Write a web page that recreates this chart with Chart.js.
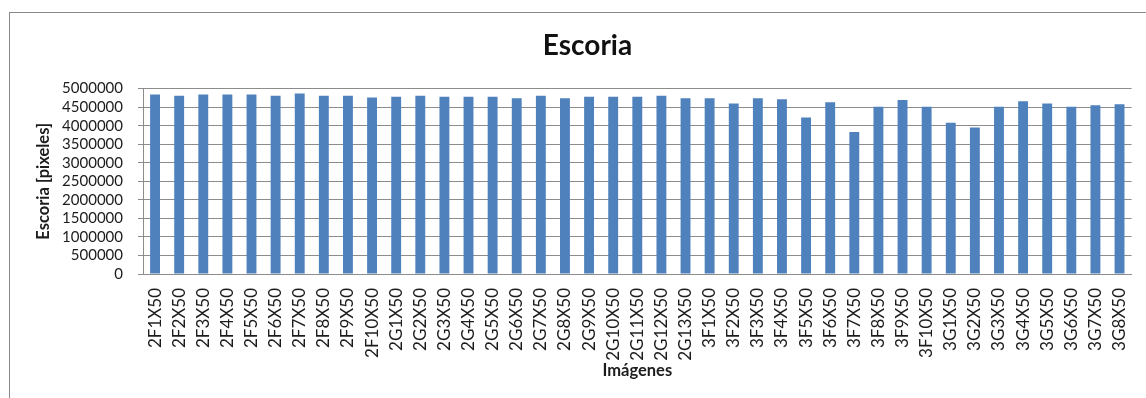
<!DOCTYPE html>
<html>
<head>
<meta charset="utf-8">
<script src="https://cdn.jsdelivr.net/npm/chart.js@4/dist/chart.umd.min.js"></script>
<style>
  body { margin: 0; background: #fff; }
  #wrap { position: relative; width: 1146px; height: 398px; overflow: hidden; }
  #frame { position: absolute; left: 9px; top: 12px; width: 1200px; height: 420px;
           border: 1px solid #8a8a8a; pointer-events: none; }
  canvas { position: absolute; left: 0; top: 0; }
</style>
</head>
<body>
<div id="wrap">
  <canvas id="escoriaChart" width="1146" height="398"></canvas>
  <div id="frame"></div>
</div>
<script>
const imagenes = [
  '2F1X50', '2F2X50', '2F3X50', '2F4X50', '2F5X50', '2F6X50', '2F7X50', '2F8X50', '2F9X50', '2F10X50',
  '2G1X50', '2G2X50', '2G3X50', '2G4X50', '2G5X50', '2G6X50', '2G7X50', '2G8X50', '2G9X50', '2G10X50',
  '2G11X50', '2G12X50', '2G13X50',
  '3F1X50', '3F2X50', '3F3X50', '3F4X50', '3F5X50', '3F6X50', '3F7X50', '3F8X50', '3F9X50', '3F10X50',
  '3G1X50', '3G2X50', '3G3X50', '3G4X50', '3G5X50', '3G6X50', '3G7X50', '3G8X50'
];

// escoria en pixeles por imagen
const escoria = [
  4840000, 4810000, 4840000, 4840000, 4840000, 4810000, 4870000, 4810000, 4810000, 4760000,
  4780000, 4810000, 4780000, 4780000, 4780000, 4740000, 4810000, 4740000, 4780000, 4780000,
  4780000, 4810000, 4740000,
  4740000, 4600000, 4740000, 4710000, 4220000, 4630000, 3830000, 4510000, 4690000, 4510000,
  4080000, 3950000, 4510000, 4660000, 4600000, 4510000, 4550000, 4580000
];

const yMax = 5000000;
const yStep = 500000;

const gridColor = '#8c8c8c';
const textColor = '#1c1c1c';

new Chart(document.getElementById('escoriaChart').getContext('2d'), {
  type: 'bar',
  data: {
    labels: imagenes,
    datasets: [{
      label: 'Escoria',
      data: escoria,
      backgroundColor: '#4f81bd',
      barPercentage: 0.41,
      categoryPercentage: 1.0,
    }],
  },
  options: {
    responsive: false,
    animation: false,
    layout: { padding: { left: 34, right: 5, top: 0, bottom: 0 } },
    plugins: {
      legend: { display: false },
      tooltip: { enabled: false },
      title: {
        display: true,
        text: 'Escoria',
        color: '#111',
        font: { family: 'Lato', size: 28, weight: 'bold' },
        padding: { top: 29, bottom: 26 },
      },
    },
    scales: {
      x: {
        grid: { display: false },
        border: { display: true, color: gridColor },
        ticks: {
          autoSkip: false,
          minRotation: 90,
          maxRotation: 90,
          padding: 6,
          color: textColor,
          font: { family: 'Lato', size: 17 },
        },
        title: {
          display: true,
          text: 'Imágenes',
          color: textColor,
          font: { family: 'Lato', size: 16.5, weight: 'bold' },
          padding: { top: 0, bottom: 17 },
        },
        afterFit: (scale) => { scale.height = 124; },
      },
      y: {
        min: 0,
        max: yMax,
        grid: { color: gridColor, tickLength: 5 },
        border: { display: true, color: gridColor },
        ticks: {
          stepSize: yStep,
          autoSkip: false,
          padding: 15,
          color: textColor,
          font: { family: 'Lato', size: 15 },
          callback: (v) => String(v),
        },
        title: {
          display: true,
          text: 'Escoria [pixeles]',
          color: textColor,
          font: { family: 'Lato', size: 16.5, weight: 'bold' },
          padding: 0,
        },
        afterFit: (scale) => { scale.width = 109; },
      },
    },
  },
});
</script>
</body>
</html>
